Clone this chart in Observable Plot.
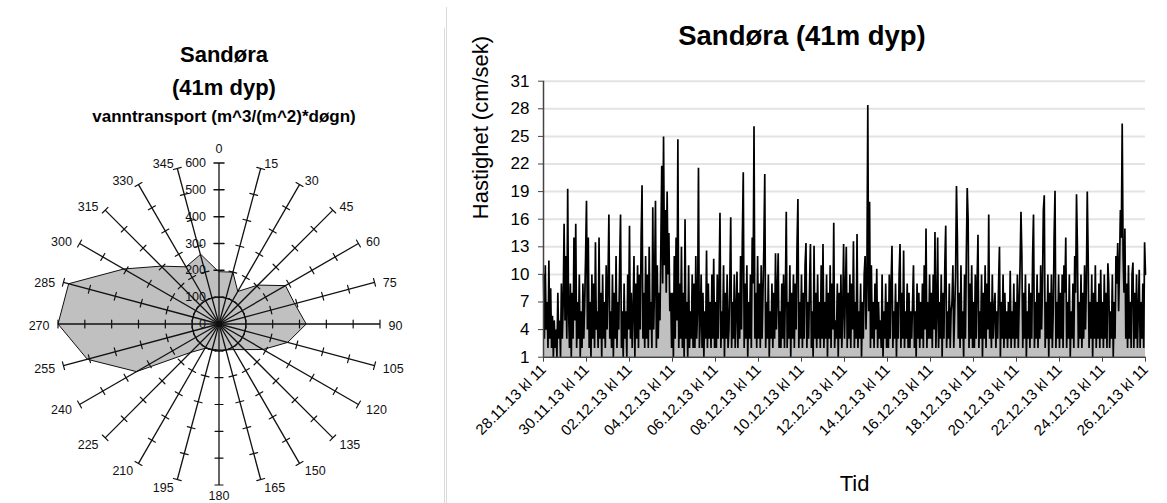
<!DOCTYPE html>
<html><head><meta charset="utf-8">
<script src="https://cdn.jsdelivr.net/npm/d3@7"></script>
<script src="https://cdn.jsdelivr.net/npm/@observablehq/plot@0.6"></script>
<style>
html,body{margin:0;padding:0;background:#fff;}
#page{position:relative;width:1167px;height:503px;overflow:hidden;font-family:"Liberation Sans",Arial,sans-serif;color:#000;background:#fff;}
.t{position:absolute;white-space:nowrap;line-height:1;transform:translateX(-50%);font-weight:bold;}
#radar,#series{position:absolute;top:0;}
#radar{left:0;}
#series{left:446px;}
.border{position:absolute;width:1px;background:#dadada;}
</style></head>
<body>
<div id="page">
  <div class="border" style="left:444px;top:28px;height:475px;"></div>
  <div class="border" style="left:446px;top:7px;height:496px;"></div>
  <div id="radar"></div>
  <div id="series"></div>
  <div class="t" style="left:224px;top:44px;font-size:22px;">Sandøra</div>
  <div class="t" style="left:224px;top:77px;font-size:22px;">(41m dyp)</div>
  <div class="t" style="left:224px;top:108px;font-size:17px;">vanntransport (m^3/(m^2)*døgn)</div>
  <div class="t" style="left:802px;top:22px;font-size:27.5px;">Sandøra (41m dyp)</div>
</div>
<script>
// ---------- radar data ----------
const directions = [0,15,30,45,60,75,90,105,120,135,150,165,180,195,210,225,240,255,270,285,300,315,330,345];
const transport = [195,200,140,205,286,292,325,265,190,135,110,100,97,97,105,150,355,508,600,580,410,305,246,268];
const radialTicks = [0,100,200,300,400,500,600];

// ---------- time series data (hourly, from 28.11.13 kl 11) ----------
const speed = [
 10,3,11,4,7,2,11.5,3,8.5,2,5.5,1,5,2,4,1,8,3,5,1,9,3,7,15.5,
 5,12,3,19.3,6,2,9,1,8,3,14,5,15.5,2,7,3,10,1,6,2,9,3,7,12,
 18,4,14,2,7,1,10,3,9,2,13.5,4,6,2,14,3,8,1,10,3,7,2,11,4,
 9,16.5,3,6,2,10,1,8,3,12,2,7,4,11,16.5,2,6,1,9,3,6,1,10,4,
 15.3,3,8,2,6,12,1,9,3,11,2,10,4,14,19.7,3,8,2,12,3,10,2,13,4,
 7,2,17.3,4,9,18,2,11,3,8,5,13,21.8,9,25,11,17,8,19,10,14.5,6,8,2,
 8,1,12,3,14,5,24.7,2,9,3,13,2,8,1,16,3,7,1,11,2,6,3,10,2,
 9,2,12,3,6,21.6,2,5,10,2,8,1,6,3,12.6,2,9,3,7,2,10,3,11.7,2,
 7,2,10,3,9,16.7,2,6,3,11,1,8,3,10,2,4,9,16.2,2,7,3,10,2,6,
 10.3,2,8,3,12,4,14,21.1,2,9,3,11,1,7,3,10,2,14,9,26.1,3,8,2,12,
 3,9,2,11,3,8,13,20.9,2,7,3,10,1,6,3,9,2,8,3,12.3,4,8,12.3,2,
 6,2,9,3,10,2,8,16.8,2,7,3,11,1,8,3,10,2,9,4,13,18.2,2,7,3,
 10,2,8,3,11,13.4,2,7,3,9,13.3,2,6,1,13.1,3,8,2,10,3,7,2,11,3,
 13.3,2,7,3,10,1,8,3,11,2,9,4,15.6,2,5,3,9,1,8,3,10,2,6,13.3,
 3,8,13,2,8,3,10,2,9,4,13.6,2,7,3,14.4,2,6,3,9,1,7,3,10,12,
 4,9,28.4,6,17.9,2,11,3,7,2,9,4,10.6,2,7,3,5,2,10,1,6,3,9,2,
 7,2,10,3,9,13.1,2,6,3,9,1,7,3,10,13.3,2,8,3,12.6,2,6,3,9,2,
 8,2,6,3,7,11,2,6,1,9,3,8,2,7,3,9,2,11,4,15,2,7,3,10,
 3,8,2,10,4,14.6,2,6,14,2,7,3,10,1,8,3,11,15.3,2,6,3,9,2,6,
 7,11,2,6,10,19.6,14,3,8,2,11,3,6,1,10,3,12,19.4,16,2,9,3,11,2,
 7,2,10,3,9,14.3,2,6,3,10,1,8,3,11,2,9,4,16.5,3,7,2,10,3,6,
 8,2,6,3,9,13,1,7,3,10,2,8,3,6,2,7,3,10.4,2,6,3,9,2,7,
 3,10,2,7,11,16.8,12,2,8,3,10,1,6,3,9,2,8,3,12,16.5,2,7,3,10,
 2,8,3,11,4,9,17,18.6,2,7,3,10,1,8,3,10,2,6,14,19.1,2,7,3,10,
 2,8,3,10,2,11,8,14,2,7,3,10,1,6,3,9,2,12,8,18.7,13,2,7,3,
 10,2,8,3,11,4,9,19,12,2,7,3,10,1,8,3,11,2,7,3,9,2,10.5,3,
 7,2,10,3,8,2,11.2,9,2,6,3,10,1,7,3,12,9,13.4,6,11,17,14,26.4,12,
 8,15,3,9,2,11,3,7,2,10,11.3,2,8,3,10,2,6,10.5,2,7,3,9,2,13.5,
 10
];
const yTicks = [1,4,7,10,13,16,19,22,25,28,31];
const tickLabels = ["28.11.13 kl 11","30.11.13 kl 11","02.12.13 kl 11","04.12.13 kl 11","06.12.13 kl 11","08.12.13 kl 11","10.12.13 kl 11","12.12.13 kl 11","14.12.13 kl 11","16.12.13 kl 11","18.12.13 kl 11","20.12.13 kl 11","22.12.13 kl 11","24.12.13 kl 11","26.12.13 kl 11"];

const FONT = '"Liberation Sans", Arial, sans-serif';

// ---------- radar ----------
const lon = a => 180 - a;
const lat = v => 90 - v / 10;
const poly = directions.map((a, i) => ({a, v: transport[i]}));
const tickData = directions.filter(a => a !== 0).flatMap(a => radialTicks.slice(1).map(v => ({a, v})));
const tick0 = radialTicks.slice(1).map(v => ({a: 0, v}));
const lineShape = {draw(context, l) { context.moveTo(0, 0); context.lineTo(0, -l); }};

const labelMarks = directions.map(a => {
  const r = a * Math.PI / 180, s = Math.sin(r), c = Math.cos(r);
  let anchor = "middle", dx = 0, dy = -7 * c + 2;
  if (a === 0) dy = -14;
  else if (a === 180) dy = 11;
  else { anchor = s > 0 ? "start" : "end"; dx = Math.sign(s) * (2 + 6.5 * Math.abs(s)); }
  return Plot.text([a], {x: lon(a), y: lat(600), text: d => String(d), textAnchor: anchor, dx, dy, fontSize: 12.5, fill: "#111"});
});

// domain circle a little larger than the 600 ring so the axis ends are not clipped
const R = 161;            // px for 600
const DOM = 62;           // degrees of the fitted domain circle
const half = R * DOM / 60;
const cx = 218.5, cy = 323.5;
const radar = Plot.plot({
  width: 445, height: 503,
  marginLeft: cx - half, marginRight: 445 - cx - half, marginTop: cy - half, marginBottom: 503 - cy - half,
  style: {background: "transparent", fontFamily: FONT},
  projection: {
    type: "azimuthal-equidistant",
    rotate: [0, -90],
    domain: d3.geoCircle().center([0, 90]).radius(DOM)()
  },
  marks: [
    Plot.line(poly, {x: d => lon(d.a), y: d => lat(d.v), curve: "linear-closed", fill: "#c0c0c0", stroke: "#111", strokeWidth: 1}),
    Plot.geo([d3.geoCircle().center([0, 90]).radius(lat(0) - lat(100))()], {fill: "none", stroke: "#111", strokeWidth: 1.2}),
    Plot.link(directions, {x1: a => lon(a), y1: lat(0), x2: a => lon(a), y2: lat(600), curve: "linear", stroke: "#111", strokeWidth: 1.3}),
    Plot.vector(tickData, {x: d => lon(d.a), y: d => lat(d.v), rotate: d => d.a + 90, length: 8, anchor: "middle", shape: lineShape, stroke: "#111", strokeWidth: 1.2}),
    Plot.vector(tick0, {x: d => lon(d.a), y: d => lat(d.v), rotate: 90, length: 10, anchor: "middle", shape: lineShape, stroke: "#111", strokeWidth: 1.5}),
    Plot.text(radialTicks, {x: lon(0), y: v => lat(v), text: v => String(v), textAnchor: "end", dx: -13, fontSize: 12.5, fill: "#111"}),
    ...labelMarks
  ]
});
document.getElementById("radar").append(radar);

// ---------- time series ----------
const start = Date.UTC(2013, 10, 28, 11);
const HOUR = 3600e3;
const series = speed.map((v, i) => ({t: new Date(start + i * HOUR), v}));
const parse = d3.utcParse("%d.%m.%y kl %H");
const tickDates = tickLabels.map(parse);

const chart = Plot.plot({
  width: 721, height: 503,
  marginLeft: 97, marginRight: 22, marginTop: 80.7, marginBottom: 146.3,
  style: {background: "transparent", fontFamily: FONT},
  x: {type: "utc", domain: [tickDates[0], tickDates[tickDates.length - 1]]},
  y: {domain: [1, 31]},
  marks: [
    Plot.gridY(yTicks.slice(1), {stroke: "#e3e3e3", strokeOpacity: 1, strokeWidth: 2}),
    Plot.areaY(series, {x: "t", y1: 1, y2: "v", fill: "#c0c0c0"}),
    Plot.line(series, {x: "t", y: "v", stroke: "#000", strokeWidth: 1.7, strokeLinejoin: "miter", strokeMiterlimit: 2}),
    Plot.ruleY([1], {stroke: "#444", strokeWidth: 1.5}),
    Plot.ruleX([tickDates[0]], {stroke: "#444", strokeWidth: 1.5}),
    Plot.axisY({ticks: yTicks, tickSize: 5, tickPadding: 9, fontSize: 17, label: null, stroke: "#444"}),
    Plot.axisX({ticks: tickDates, tickFormat: d => tickLabels[tickDates.findIndex(t => +t === +d)], tickRotate: -45, tickSize: 5, tickPadding: 5, fontSize: 15, label: null, stroke: "#444"}),
    Plot.text(["Hastighet (cm/sek)"], {frameAnchor: "left", rotate: -90, dx: -63, fontSize: 22}),
    Plot.text(["Tid"], {frameAnchor: "bottom", dy: 134, dx: 10, fontSize: 22})
  ]
});
document.getElementById("series").append(chart);
</script>
</body></html>
